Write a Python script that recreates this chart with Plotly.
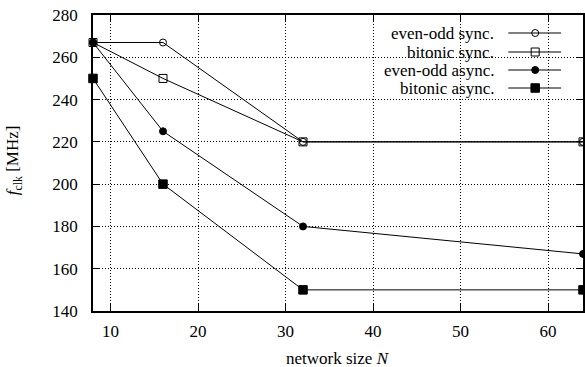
import plotly.graph_objects as go

# Network sizes and clock frequencies (MHz)
network_size = [8, 16, 32, 64]
even_odd_sync = [267, 267, 220, 220]
bitonic_sync = [267, 250, 220, 220]
even_odd_async = [267, 225, 180, 167]
bitonic_async = [250, 200, 150, 150]

series_names = ["even-odd sync.", "bitonic sync.", "even-odd async.", "bitonic async."]
series_values = [even_odd_sync, bitonic_sync, even_odd_async, bitonic_async]
series_symbols = ["circle-open", "square-open", "circle", "square"]
series_sizes = [7, 8, 7, 8.5]

x_ticks = [10, 20, 30, 40, 50, 60]
y_ticks = [140, 160, 180, 200, 220, 240, 260, 280]

FONT = "Liberation Serif, Times New Roman, serif"
FS = 17
W, H = 585, 367
L, R, T, B = 93, 0, 15, 56

fig = go.Figure()

for name, vals, sym, sz in zip(series_names, series_values, series_symbols, series_sizes):
    fig.add_trace(go.Scatter(
        x=network_size, y=vals, mode="lines+markers", name=name,
        line=dict(color="black", width=1),
        marker=dict(symbol=sym, size=sz, color="black",
                    line=dict(color="black", width=1)),
        showlegend=False, cliponaxis=False,
    ))

# Key: text on the left, sample line with marker on the right
pw = W - L - R
ph = H - T - B
def px(x):
    return (x - L) / pw
def py(y):
    return (H - B - y) / ph

key_rows = [33, 52, 70, 88]
shapes = [dict(type="rect", xref="paper", yref="paper",
               x0=px(332), x1=px(575), y0=py(97), y1=py(23),
               fillcolor="white", line=dict(width=0), layer="between")]
annotations = []
for name, sym, sz, row in zip(series_names, series_symbols, series_sizes, key_rows):
    annotations.append(dict(text=name, xref="paper", yref="paper",
                            x=px(498), y=py(row), xanchor="right", yanchor="middle",
                            showarrow=False, font=dict(family=FONT, size=FS, color="black")))
    shapes.append(dict(type="line", xref="paper", yref="paper",
                       x0=px(510), x1=px(563), y0=py(row), y1=py(row),
                       line=dict(color="black", width=1)))
    fig.add_trace(go.Scatter(
        x=[px(537)], y=[py(row)], xaxis="x2", yaxis="y2", mode="markers",
        marker=dict(symbol=sym, size=sz, color="black", line=dict(color="black", width=1)),
        showlegend=False, hoverinfo="skip",
    ))

# Axis titles placed as annotations for precise placement
annotations.append(dict(text="network size <i>N</i>", xref="paper", yref="paper",
                        x=0.5, y=py(358), xanchor="center", yanchor="middle",
                        showarrow=False, font=dict(family=FONT, size=FS, color="black")))
annotations.append(dict(text="<i>f</i><sub>clk</sub> [MHz]", xref="paper", yref="paper",
                        x=px(14), y=py(160), xanchor="center", yanchor="middle",
                        textangle=-90, showarrow=False,
                        font=dict(family=FONT, size=FS, color="black")))

axis_common = dict(
    showline=True, linecolor="black", linewidth=1.5, mirror="ticks",
    ticks="inside", ticklen=7, tickcolor="black", tickwidth=1,
    showgrid=True, gridcolor="black", gridwidth=1, griddash="1px,2px",
    zeroline=False, tickfont=dict(family=FONT, size=FS, color="black"),
)

fig.update_layout(
    width=W, height=H,
    margin=dict(l=L, r=R, t=T, b=B),
    paper_bgcolor="white", plot_bgcolor="white",
    font=dict(family=FONT, size=FS, color="black"),
    xaxis=dict(range=[8, 64], tickvals=x_ticks, ticklabelstandoff=4, **axis_common),
    yaxis=dict(range=[140, 280], tickvals=y_ticks, ticklabelstandoff=10, **axis_common),
    xaxis2=dict(range=[0, 1], overlaying="x", visible=False),
    yaxis2=dict(range=[0, 1], overlaying="y", visible=False),
    shapes=shapes,
    annotations=annotations,
)

fig.write_html("out.html")
